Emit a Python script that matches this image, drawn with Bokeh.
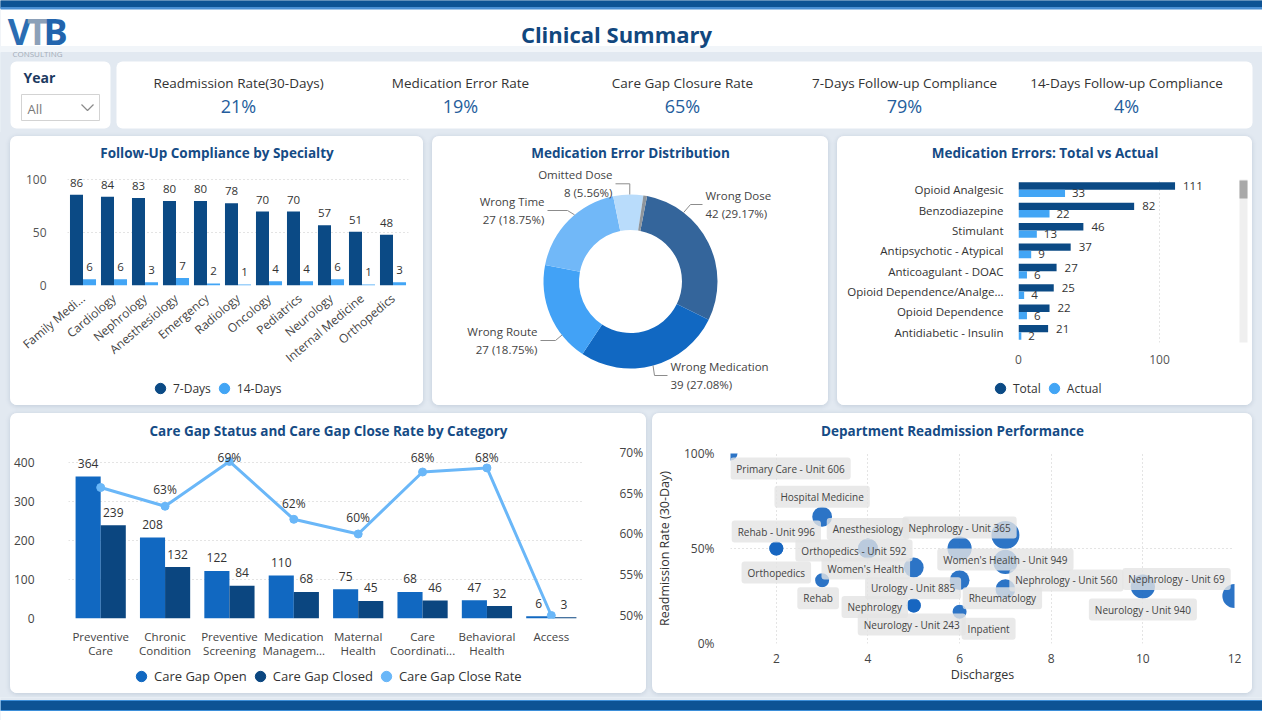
import math
from bokeh.plotting import figure
from bokeh.models import (ColumnDataSource, FactorRange, Range1d, FixedTicker, Legend, LegendItem,
                          NumeralTickFormatter, PrintfTickFormatter, LinearAxis, CategoricalAxis,
                          BoxAnnotation, CustomJSTickFormatter)
from bokeh.transform import dodge
from bokeh.layouts import column, row
from bokeh.core.properties import value
from bokeh.embed import file_html
from bokeh.resources import INLINE

# ---------------------------------------------------------------- data
kpi_labels = ["Readmission Rate(30-Days)", "Medication Error Rate", "Care Gap Closure Rate",
              "7-Days Follow-up Compliance", "14-Days Follow-up Compliance"]
kpi_values = ["21%", "19%", "65%", "79%", "4%"]

specialties = ["Family Medicine", "Cardiology", "Nephrology", "Anesthesiology", "Emergency",
               "Radiology", "Oncology", "Pediatrics", "Neurology", "Internal Medicine", "Orthopedics"]
followup_7d = [86, 84, 83, 80, 80, 78, 70, 70, 57, 51, 48]
followup_14d = [6, 6, 3, 7, 2, 1, 4, 4, 6, 1, 3]

error_types = ["Wrong Dose", "Wrong Medication", "Wrong Route", "Wrong Time", "Omitted Dose", "Other"]
error_counts = [42, 39, 27, 27, 8, 1]

drug_classes = ["Opioid Analgesic", "Benzodiazepine", "Stimulant", "Antipsychotic - Atypical",
                "Anticoagulant - DOAC", "Opioid Dependence/Analgesic", "Opioid Dependence",
                "Antidiabetic - Insulin"]
errors_total = [111, 82, 46, 37, 27, 25, 22, 21]
errors_actual = [33, 22, 13, 9, 6, 4, 6, 2]

gap_categories = ["Preventive Care", "Chronic Condition", "Preventive Screening", "Medication Management",
                  "Maternal Health", "Care Coordination", "Behavioral Health", "Access"]
gaps_open = [364, 208, 122, 110, 75, 68, 47, 6]
gaps_closed = [239, 132, 84, 68, 45, 46, 32, 3]
gap_close_rate = [65.7, 63.4, 68.9, 61.8, 60.0, 67.6, 68.1, 50.0]

departments = ["Primary Care - Unit 606", "Hospital Medicine", "Rehab - Unit 996", "Orthopedics",
               "Anesthesiology", "Orthopedics - Unit 592", "Nephrology - Unit 365",
               "Women's Health - Unit 949", "Nephrology - Unit 560", "Women's Health", "Rehab",
               "Urology - Unit 885", "Rheumatology", "Nephrology", "Neurology - Unit 243", "Inpatient",
               "Neurology - Unit 940", "Nephrology - Unit 69"]
discharges = [1, 3, 2, 2, 4, 4, 6, 7, 7, 5, 3, 6, 7, 5, 5, 6, 10, 12]
readmissions = [1, 2, 1, 1, 2, 2, 3, 4, 3, 2, 1, 2, 2, 1, 1, 1, 3, 3]
readmit_rate = [1.0, 0.667, 0.5, 0.5, 0.5, 0.5, 0.5, 0.571, 0.429, 0.4, 0.333, 0.333, 0.286,
                0.2, 0.2, 0.167, 0.3, 0.25]

# ---------------------------------------------------------------- styling
FONT = "Open Sans"
PAGE_BG = "#e2e9f1"
TITLE_BLUE = "#154b85"
NAVY = "#0b4a85"
SKY = "#42a5f5"
MID_BLUE = "#1168c1"
DEEP_BLUE = "#0b4680"
LINE_BLUE = "#6ab7f8"
BAR_BLUE = "#0d5394"
CARD_CSS = {"border-radius": "7px", "overflow": "hidden", "background-color": "white",
            "box-shadow": "0 1px 5px rgba(40,70,110,0.18)"}

# donut label placement: ring angle (deg clockwise from 12 o'clock), elbow and tip (px from centre)
donut_label_layout = {
    "Wrong Dose": dict(ring=37.6, elbow=(60, 77), tip=(72, 77), align="left"),
    "Wrong Medication": dict(ring=165.0, elbow=(24, -94), tip=(37, -94), align="left"),
    "Wrong Route": dict(ring=232.0, elbow=(-75, -59), tip=(-90, -59), align="right"),
    "Wrong Time": dict(ring=320.0, elbow=(-63, 71), tip=(-83, 71), align="right"),
    "Omitted Dose": dict(ring=-0.5, elbow=(-0.7, 97.7), tip=(-15, 97.7), align="right"),
}
# scatter label nudges in screen px (dx right, dy down)
bubble_label_nudge = [(60, 15), (0, -20), (0, -17), (0, 24), (0, -19.5), (-14, 2), (0, -21),
                      (0, 24.5), (61, 18.5), (-48, 1), (-4, 18), (-46.5, 8), (-3, 9), (-39, 1.5),
                      (-2, 19), (29, 17), (0, 23), (-58, -17)]
# shortened / two-line tick text
spec_ticks = {"Family Medicine": "Family Medi..."}
drug_ticks = {"Opioid Dependence/Analgesic": "Opioid Dependence/Analge..."}
gap_tick_first = {"Preventive Care": "Preventive", "Chronic Condition": "Chronic",
                  "Preventive Screening": "Preventive", "Medication Management": "Medication",
                  "Maternal Health": "Maternal", "Care Coordination": "Care",
                  "Behavioral Health": "Behavioral", "Access": "Access"}
gap_tick_second = {"Preventive Care": "Care", "Chronic Condition": "Condition",
                   "Preventive Screening": "Screening", "Medication Management": "Managem...",
                   "Maternal Health": "Health", "Care Coordination": "Coordinati...",
                   "Behavioral Health": "Health", "Access": " "}


def tick_text(mapping):
    return CustomJSTickFormatter(args=dict(m=mapping),
                                 code="return (tick in m) ? m[tick] : tick;")


def bare(width, height, x_range, y_range):
    f = figure(width=width, height=height, output_backend="svg", toolbar_location=None, tools="",
               min_border=0, x_axis_type=None, y_axis_type=None, x_range=x_range, y_range=y_range)
    f.grid.visible = False
    f.outline_line_color = None
    f.background_fill_color = "white"
    f.border_fill_color = "white"
    return f


def title_strip(width, height, text, cy):
    t = bare(width, height, Range1d(0, width), Range1d(height, 0))
    t.text(x=[width / 2], y=[cy], text=[text], text_font=value(FONT), text_font_size="13.5px",
           text_font_style="bold", text_color=TITLE_BLUE, text_align="center", text_baseline="middle")
    return t


def legend_strip(width, height, entries, loc, size="12px"):
    lf = bare(width, height, Range1d(0, 1), Range1d(0, 1))
    items = []
    for label, color in entries:
        r = lf.scatter(x=[-5], y=[-5], marker="circle", size=11, fill_color=color, line_color=color)
        items.append(LegendItem(label=label, renderers=[r]))
    lg = Legend(items=items, orientation="horizontal", location=loc,
                label_text_font=FONT, label_text_font_size=size, label_text_color="#333333",
                glyph_width=26, glyph_height=26, label_height=16, label_standoff=0, spacing=0,
                padding=0, margin=0, border_line_color=None, background_fill_alpha=0)
    lf.add_layout(lg)
    return lf


def chart(width, height, borders, **kw):
    p = figure(width=width, height=height, output_backend="svg", toolbar_location=None,
               tools="", **kw)
    p.outline_line_color = None
    p.background_fill_color = "white"
    p.border_fill_color = "white"
    p.min_border_top, p.min_border_right, p.min_border_bottom, p.min_border_left = borders
    return p


def card(parts, margin):
    return column(*[column(f) for f in parts], margin=margin, styles=CARD_CSS)


def style_axis(ax, size="12px", color="#555555", standoff=8):
    ax.axis_line_color = None
    ax.major_tick_line_color = None
    ax.minor_tick_line_color = None
    ax.major_label_text_font = FONT
    ax.major_label_text_font_size = size
    ax.major_label_text_color = color
    ax.major_label_standoff = standoff


def style_grid(g):
    g.grid_line_color = "#c9c9c9"
    g.grid_line_dash = "1 3"


# ---------------------------------------------------------------- header
hdr = bare(1262, 132, Range1d(0, 1262), Range1d(132, 0))
hdr.quad(left=0, right=1262, top=46, bottom=52, color="#f1f5f9")
hdr.quad(left=0, right=1262, top=52, bottom=132, color=PAGE_BG)
hdr.quad(left=0, right=1262, top=0, bottom=7, color=BAR_BLUE)
hdr.quad(left=0, right=1262, top=7, bottom=8.5, color="#4a8fd3")
# logo
hdr.text(x=[19], y=[31], text=["V"], text_font=value(FONT), text_font_size="36px",
         text_font_style="bold", text_color="#2a6db3", text_align="center", text_baseline="middle")
hdr.text(x=[37], y=[31], text=["T"], text_font=value(FONT), text_font_size="36px",
         text_font_style="bold", text_color="#8ca0b8", text_align="center", text_baseline="middle")
hdr.text(x=[55], y=[31], text=["B"], text_font=value(FONT), text_font_size="36px",
         text_font_style="bold", text_color="#2164ad", text_align="center", text_baseline="middle")
hdr.text(x=[37], y=[53], text=["CONSULTING"], text_font=value(FONT), text_font_size="8px",
         text_color="#a3adb8", text_align="center", text_baseline="middle")
hdr.text(x=[616], y=[33], text=["Clinical Summary"], text_font=value(FONT), text_font_size="22px",
         text_font_style="bold", text_color="#11477e", text_align="center", text_baseline="middle")
# slicer and KPI cards
hdr.quad(left=10, right=110, top=61, bottom=128, fill_color="white", line_color=None, border_radius=6)
hdr.quad(left=116, right=1252, top=61, bottom=128, fill_color="white", line_color=None, border_radius=6)
hdr.text(x=[23], y=[77], text=["Year"], text_font=value(FONT), text_font_size="14px",
         text_font_style="bold", text_color="#1c3a61", text_baseline="middle")
hdr.quad(left=21, right=99, top=94, bottom=120, fill_color="white", line_color="#d3d3d3")
hdr.text(x=[27], y=[108], text=["All"], text_font=value(FONT), text_font_size="13px",
         text_color="#7a7a7a", text_baseline="middle")
hdr.line(x=[81, 87, 93], y=[104, 110, 104], line_color="#8a8a8a", line_width=1.2)
kpi_x = [238 + 222 * i for i in range(len(kpi_labels))]
hdr.text(x=kpi_x, y=[82] * len(kpi_x), text=kpi_labels, text_font=value(FONT), text_font_size="13.5px",
         text_color="#333333", text_align="center", text_baseline="middle")
hdr.text(x=kpi_x, y=[105] * len(kpi_x), text=kpi_values, text_font=value(FONT), text_font_size="18px",
         text_color="#245d9c", text_align="center", text_baseline="middle")

# ---------------------------------------------------------------- follow-up compliance
t1 = title_strip(413, 30, "Follow-Up Compliance by Specialty", 16)
p1 = chart(413, 209, (5, 15, 85, 57),
           x_range=FactorRange(factors=specialties), y_range=Range1d(0, 108))
s1 = ColumnDataSource(dict(spec=specialties, d7=followup_7d, d14=followup_14d,
                           d7s=[str(v) for v in followup_7d], d14s=[str(v) for v in followup_14d]))
p1.vbar(x=dodge("spec", -0.21, range=p1.x_range), top="d7", width=0.42, source=s1,
        fill_color=NAVY, line_color=None)
p1.vbar(x=dodge("spec", 0.21, range=p1.x_range), top="d14", width=0.42, source=s1,
        fill_color=SKY, line_color=None)
p1.text(x=dodge("spec", -0.21, range=p1.x_range), y="d7", text="d7s", source=s1, y_offset=-12,
        text_font=value(FONT), text_font_size="11.5px", text_color="#333333",
        text_align="center", text_baseline="middle")
p1.text(x=dodge("spec", 0.21, range=p1.x_range), y="d14", text="d14s", source=s1, y_offset=-12,
        text_font=value(FONT), text_font_size="11.5px", text_color="#333333",
        text_align="center", text_baseline="middle")
style_axis(p1.xaxis[0], "12px", "#444444", 5)
p1.xaxis.major_label_orientation = 0.70
p1.xaxis.formatter = tick_text(spec_ticks)
style_axis(p1.yaxis[0], "12px", "#555555", 15)
p1.yaxis.ticker = FixedTicker(ticks=[0, 50, 100])
p1.xgrid.grid_line_color = None
style_grid(p1.ygrid[0])
l1 = legend_strip(413, 30, [("7-Days", NAVY), ("14-Days", SKY)], (137, 4))

# ---------------------------------------------------------------- medication error donut
t2 = title_strip(396, 30, "Medication Error Distribution", 16)
p2 = bare(396, 239, Range1d(-198, 198), Range1d(-124, 115))
total_err = sum(error_counts)
start_deg = 11.0
cum = 0
a0, a1 = [], []
for v in error_counts:
    d0 = start_deg + 360.0 * cum / total_err
    d1 = start_deg + 360.0 * (cum + v) / total_err
    a0.append(math.pi / 2 - math.radians(d0))
    a1.append(math.pi / 2 - math.radians(d1))
    cum += v
donut_colors = ["#34659b", "#1168c2", "#42a2f6", "#71b8f8", "#b9dcfb", "#8e959c"]
s2 = ColumnDataSource(dict(kind=error_types, n=error_counts, a0=a0, a1=a1, color=donut_colors))
p2.annular_wedge(x=0, y=0, inner_radius=51.5, outer_radius=87, inner_radius_units="screen",
                 outer_radius_units="screen", start_angle="a0", end_angle="a1", direction="clock",
                 fill_color="color", line_color=None, source=s2)
for kind, n in zip(error_types, error_counts):
    if kind not in donut_label_layout:
        continue
    L = donut_label_layout[kind]
    ang = math.radians(L["ring"])
    rx, ry = 87 * math.sin(ang), 87 * math.cos(ang)
    p2.line(x=[L["tip"][0], L["elbow"][0], rx], y=[L["tip"][1], L["elbow"][1], ry],
            line_color="#8c8c8c", line_width=1)
    gap = 3 if L["align"] == "left" else -3
    p2.text(x=[L["tip"][0] + gap], y=[L["tip"][1]],
            text=[f"{kind}\n{n} ({100.0 * n / total_err:.2f}%)"], text_align=L["align"],
            text_baseline="middle", text_font=value(FONT), text_font_size="11.5px",
            text_color="#444444", text_line_height=1.2)

# ---------------------------------------------------------------- medication errors total vs actual
t3 = title_strip(415, 30, "Medication Errors: Total vs Actual", 16)
p3 = chart(415, 209, (13, 2, 33, 181),
           x_range=Range1d(0, 164.5), y_range=FactorRange(factors=list(reversed(drug_classes))))
s3 = ColumnDataSource(dict(med=drug_classes, total=errors_total, actual=errors_actual,
                           ts=[str(v) for v in errors_total], acs=[str(v) for v in errors_actual]))
p3.hbar(y=dodge("med", 0.18, range=p3.y_range), right="total", height=0.36, left=0, source=s3,
        fill_color=NAVY, line_color=None)
p3.hbar(y=dodge("med", -0.18, range=p3.y_range), right="actual", height=0.36, left=0, source=s3,
        fill_color=SKY, line_color=None)
p3.text(x="total", y=dodge("med", 0.18, range=p3.y_range), text="ts", source=s3, x_offset=8,
        text_font=value(FONT), text_font_size="11.5px", text_color="#333333", text_baseline="middle")
p3.text(x="actual", y=dodge("med", -0.18, range=p3.y_range), text="acs", source=s3, x_offset=7,
        text_font=value(FONT), text_font_size="11.5px", text_color="#333333", text_baseline="middle")
style_axis(p3.yaxis[0], "11.5px", "#333333", 9)
p3.yaxis.formatter = tick_text(drug_ticks)
style_axis(p3.xaxis[0], "12px", "#555555", 6)
p3.xaxis.ticker = FixedTicker(ticks=[0, 100])
p3.ygrid.grid_line_color = None
style_grid(p3.xgrid[0])
p3.add_layout(BoxAnnotation(left=402, right=410, top=6, bottom=184, left_units="canvas",
                            right_units="canvas", top_units="canvas", bottom_units="canvas",
                            fill_color="#efefef", fill_alpha=1, line_color=None))
p3.add_layout(BoxAnnotation(left=402, right=410, top=14, bottom=32, left_units="canvas",
                            right_units="canvas", top_units="canvas", bottom_units="canvas",
                            fill_color="#a8a8a8", fill_alpha=1, line_color=None))
l3 = legend_strip(415, 30, [("Total", NAVY), ("Actual", SKY)], (150, 4))

# ---------------------------------------------------------------- care gap status
t4 = title_strip(636, 30, "Care Gap Status and Care Gap Close Rate by Category", 17)
p4 = chart(636, 220, (0, 62, 45, 54),
           x_range=FactorRange(factors=gap_categories), y_range=Range1d(0, 448.7))
p4.extra_y_ranges = {"rate": Range1d(49.63, 71.10)}
rate_label_y = [min(r + 2.0, 69.4) for r in gap_close_rate]
rate_label = [f"{r:.0f}%" for r in gap_close_rate]
s4 = ColumnDataSource(dict(cat=gap_categories, open=gaps_open, closed=gaps_closed,
                           os=[str(v) for v in gaps_open], cs=[str(v) for v in gaps_closed],
                           rate=gap_close_rate))
p4.vbar(x=dodge("cat", -0.195, range=p4.x_range), top="open", width=0.39, source=s4,
        fill_color=MID_BLUE, line_color=None)
p4.vbar(x=dodge("cat", 0.195, range=p4.x_range), top="closed", width=0.39, source=s4,
        fill_color=DEEP_BLUE, line_color=None)
p4.text(x=dodge("cat", -0.195, range=p4.x_range), y="open", text="os", source=s4, y_offset=-13,
        text_font=value(FONT), text_font_size="12px", text_color="#333333",
        text_align="center", text_baseline="middle")
p4.text(x=dodge("cat", 0.195, range=p4.x_range), y="closed", text="cs", source=s4, y_offset=-13,
        text_font=value(FONT), text_font_size="12px", text_color="#333333",
        text_align="center", text_baseline="middle")
p4.line(x="cat", y="rate", source=s4, y_range_name="rate", line_color=LINE_BLUE, line_width=3)
p4.scatter(x="cat", y="rate", source=s4, y_range_name="rate", marker="circle", size=8,
           fill_color=LINE_BLUE, line_color=LINE_BLUE)
s4l = ColumnDataSource(dict(cat=gap_categories[1:-1], y=rate_label_y[1:-1], t=rate_label[1:-1]))
p4.text(x="cat", y="y", text="t", source=s4l, y_range_name="rate", text_font=value(FONT),
        text_font_size="12px", text_color="#333333", text_align="center", text_baseline="middle")
style_axis(p4.xaxis[0], "11.5px", "#444444", 4)
p4.xaxis.formatter = tick_text(gap_tick_first)
x2 = CategoricalAxis(formatter=tick_text(gap_tick_second))
style_axis(x2, "11.5px", "#444444", -10)
p4.add_layout(x2, "below")
style_axis(p4.yaxis[0], "12px", "#444444", 28)
p4.yaxis.ticker = FixedTicker(ticks=[0, 100, 200, 300, 400])
rax = LinearAxis(y_range_name="rate", ticker=FixedTicker(ticks=[50, 55, 60, 65, 70]),
                 formatter=PrintfTickFormatter(format="%d%%"))
style_axis(rax, "12px", "#444444", 30)
p4.add_layout(rax, "right")
p4.xgrid.grid_line_color = None
style_grid(p4.ygrid[0])
l4 = legend_strip(636, 30, [("Care Gap Open", MID_BLUE), ("Care Gap Closed", DEEP_BLUE),
                            ("Care Gap Close Rate", LINE_BLUE)], (118, 4), "13px")

# ---------------------------------------------------------------- department readmission bubbles
t5 = title_strip(600, 30, "Department Readmission Performance", 17)
p5 = chart(600, 250, (10, 18, 50, 72), x_range=Range1d(1, 12), y_range=Range1d(0, 1))
s5 = ColumnDataSource(dict(dept=departments, x=discharges, y=readmit_rate,
                           size=[14 * math.sqrt(n) for n in readmissions],
                           dx=[d[0] for d in bubble_label_nudge], dy=[d[1] for d in bubble_label_nudge]))
p5.scatter(x="x", y="y", size="size", source=s5, marker="circle", fill_color="#1565c0",
           fill_alpha=0.9, line_color=None)
p5.text(x="x", y="y", text="dept", x_offset="dx", y_offset="dy", source=s5,
        text_font=value(FONT), text_font_size="10px", text_color="#444444",
        text_align="center", text_baseline="middle",
        background_fill_color="#e3e3e3", background_fill_alpha=0.8, border_radius=3,
        padding=dict(left=6, right=6, top=4, bottom=4))
style_axis(p5.xaxis[0], "12px", "#444444", 4)
style_axis(p5.yaxis[0], "12px", "#444444", 10)
p5.xaxis.ticker = FixedTicker(ticks=[2, 4, 6, 8, 10, 12])
p5.yaxis.ticker = FixedTicker(ticks=[0, 0.5, 1])
p5.yaxis.formatter = NumeralTickFormatter(format="0%")
p5.xaxis.axis_label = "Discharges"
p5.yaxis.axis_label = "Readmission Rate (30-Day)"
for ax in (p5.xaxis[0], p5.yaxis[0]):
    ax.axis_label_text_font = FONT
    ax.axis_label_text_font_size = "12.5px"
    ax.axis_label_text_font_style = "normal"
    ax.axis_label_text_color = "#333333"
p5.xaxis.axis_label_standoff = 0
p5.yaxis.axis_label_standoff = 8
style_grid(p5.xgrid[0])
style_grid(p5.ygrid[0])

# ---------------------------------------------------------------- footer
ftr = bare(1262, 23, Range1d(0, 1262), Range1d(23, 0))
ftr.quad(left=0, right=1262, top=0, bottom=3, color=PAGE_BG)
ftr.quad(left=0, right=1262, top=3, bottom=13, fill_color=BAR_BLUE, line_color="#3d8fd9")

# ---------------------------------------------------------------- page
page = column(hdr,
              row(card([t1, p1, l1], (4, 0, 4, 10)), card([t2, p2], (4, 0, 4, 9)),
                  card([t3, p3, l3], (4, 10, 4, 9))),
              row(card([t4, p4, l4], (4, 0, 4, 10)), card([t5, p5], (4, 10, 4, 6))),
              ftr, styles={"background-color": PAGE_BG})

open("out.html", "w").write(file_html(page, INLINE))
